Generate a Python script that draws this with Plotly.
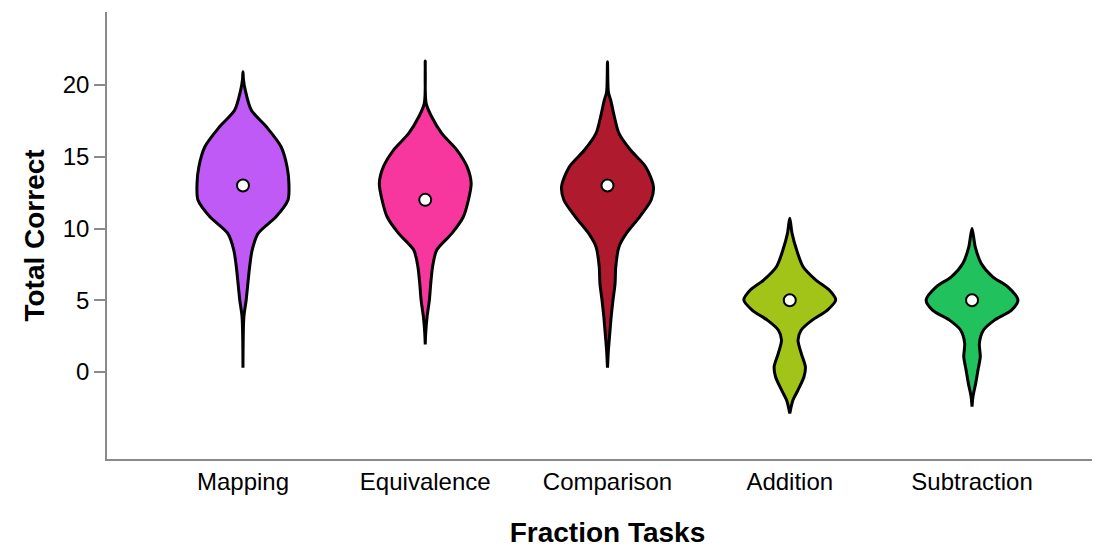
"""Violin chart of total correct per fraction task"""
import plotly.graph_objects as go

tasks = ["Mapping", "Equivalence", "Comparison", "Addition", "Subtraction"]
colors = ["#C05AF6", "#F8379E", "#B01A2F", "#A2C419", "#21C15E"]
medians = [13, 12, 13, 5, 5]

# density profiles (score level, relative width)
mapping_y = [20.93, 20.4, 19.65, 18.26, 17.09, 15.70, 14.31, 13.15, 11.99, 10.82, 9.66, 8.50, 7.34, 5.02, 3.85, 0.30]
mapping_w = [0, 0.01, 0.05, 0.18, 0.51, 0.83, 0.96, 1.0, 0.98, 0.72, 0.33, 0.2, 0.145, 0.07, 0.02, 0]

equivalence_y = [21.67, 18.72, 17.79, 16.63, 15.47, 14.31, 13.15, 11.99, 10.82, 9.66, 8.50, 7.34, 6.18, 5.02, 3.85, 2.70, 1.93]
equivalence_w = [0, 0.02, 0.14, 0.36, 0.69, 0.91, 1.0, 0.94, 0.83, 0.58, 0.25, 0.16, 0.12, 0.09, 0.04, 0.01, 0]

comparison_y = [21.62, 19.5, 18.95, 17.79, 16.63, 15.47, 14.31, 12.92, 11.99, 10.82, 9.66, 8.73, 7.34, 6.18, 5.02, 3.85, 2.70, 1.53, 0.30]
comparison_w = [0, 0.02, 0.07, 0.15, 0.25, 0.5, 0.83, 1.0, 0.95, 0.70, 0.41, 0.25, 0.18, 0.165, 0.12, 0.08, 0.05, 0.02, 0]

addition_y = [10.71, 9.66, 8.50, 7.34, 6.41, 5.71, 5.02, 4.32, 3.62, 2.93, 2.23, 1.30, 0.37, -0.33, -1.25, -1.95, -2.88]
addition_w = [0, 0.05, 0.15, 0.29, 0.57, 0.86, 1.0, 0.82, 0.49, 0.25, 0.18, 0.25, 0.34, 0.31, 0.18, 0.07, 0]

subtraction_y = [10.01, 8.73, 7.57, 6.64, 5.94, 5.02, 4.32, 3.62, 2.93, 2.0, 1.07, 0.14, -0.79, -1.72, -2.42]
subtraction_w = [0, 0.07, 0.2, 0.45, 0.78, 1.0, 0.86, 0.49, 0.25, 0.16, 0.18, 0.13, 0.08, 0.02, 0]

profiles = [
    (mapping_y, mapping_w),
    (equivalence_y, equivalence_w),
    (comparison_y, comparison_w),
    (addition_y, addition_w),
    (subtraction_y, subtraction_w),
]

HALF = 0.252  # max half width in category units

fig = go.Figure()
for i, (ys, ws) in enumerate(profiles):
    xs = [i + w * HALF for w in ws] + [i - w * HALF for w in reversed(ws)]
    yy = list(ys) + list(reversed(ys))
    fig.add_trace(go.Scatter(
        x=xs, y=yy, mode="lines", fill="toself",
        fillcolor=colors[i],
        line=dict(color="black", width=3, shape="spline", smoothing=0.8),
        hoverinfo="skip", showlegend=False))

fig.add_trace(go.Scatter(
    x=list(range(len(tasks))), y=medians, mode="markers",
    marker=dict(color="white", size=12, line=dict(color="black", width=2)),
    showlegend=False, hovertext=tasks))

# page body adds an 8px offset, so margins are shifted to compensate
fig.update_layout(
    width=1100, height=541,
    margin=dict(l=99, r=0, t=4, b=90),
    plot_bgcolor="white", paper_bgcolor="white",
    font=dict(family="Liberation Sans, Arial, sans-serif", color="black", size=24),
)
fig.update_xaxes(
    range=[-0.746, 4.746], tickvals=list(range(len(tasks))), ticktext=tasks,
    showline=True, linecolor="#8a8a8a", linewidth=1.5, showgrid=False,
    zeroline=False, ticks="", tickfont=dict(size=24),
    title=dict(text="<b>Fraction Tasks</b>", font=dict(size=28), standoff=29),
)
fig.update_yaxes(
    range=[-6.06, 25.09], tickvals=[0, 5, 10, 15, 20],
    showline=True, linecolor="#8a8a8a", linewidth=1.5, showgrid=False,
    zeroline=False, ticks="outside", ticklen=11, tickcolor="#8a8a8a",
    tickwidth=1.5, tickfont=dict(size=24),
    title=dict(text="<b>Total Correct</b>", font=dict(size=28), standoff=10),
)

fig.write_html("out.html")
